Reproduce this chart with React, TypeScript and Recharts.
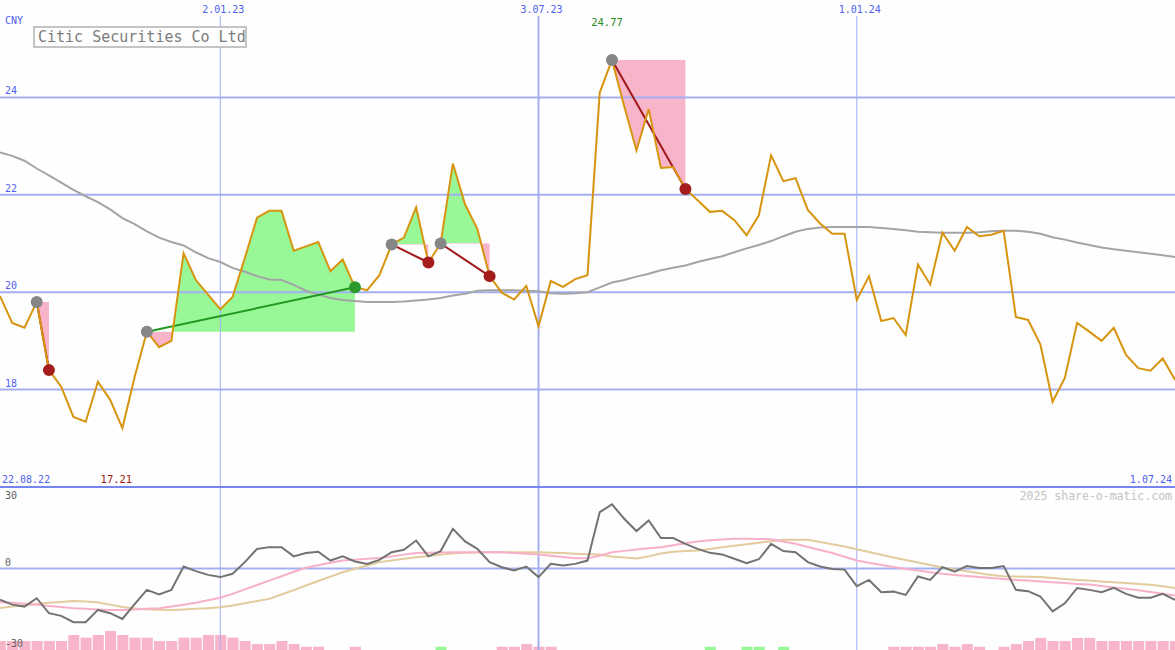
import React from "react";
import {
  Area,
  Bar,
  Cell,
  ComposedChart,
  Line,
  ReferenceDot,
  ReferenceLine,
  XAxis,
  YAxis
} from "recharts";

// weekly closes, 29.08.22 .. 1.07.24
const price = [
  19.92, 19.37, 19.27, 19.8, 18.4, 18.06, 17.44, 17.34, 18.16, 17.79,
  17.21, 18.26, 19.19, 18.87, 19.0, 20.8, 20.25, 19.95, 19.65, 19.9,
  20.7, 21.53, 21.67, 21.67, 20.85, 20.94, 21.03, 20.43, 20.67, 20.1,
  20.04, 20.35, 20.98, 21.12, 21.74, 20.61, 21.0, 22.64, 21.8, 21.3,
  20.33, 19.99, 19.85, 20.13, 19.3, 20.23, 20.11, 20.27, 20.35, 24.1,
  24.77, 23.82, 22.91, 23.76, 22.55, 22.57, 22.12, 21.89, 21.65, 21.67,
  21.48, 21.17, 21.58, 22.81, 22.28, 22.34, 21.69, 21.41, 21.2, 21.2,
  19.84, 20.33, 19.41, 19.47, 19.12, 20.57, 20.16, 21.22, 20.85, 21.34,
  21.15, 21.18, 21.26, 19.49, 19.43, 18.93, 17.75, 18.24, 19.37, 19.19,
  19.0, 19.27, 18.71, 18.44, 18.39, 18.64, 18.2
];

const movingAvg = [
  22.87, 22.8, 22.7, 22.54, 22.4, 22.25, 22.1, 21.97, 21.85, 21.7,
  21.52, 21.4, 21.25, 21.12, 21.03, 20.96, 20.82, 20.7, 20.62, 20.5,
  20.42, 20.33, 20.26, 20.25, 20.15, 20.03, 19.95, 19.88, 19.84, 19.82,
  19.8, 19.8, 19.8, 19.81, 19.83, 19.85, 19.88, 19.93, 19.97, 20.03,
  20.04, 20.04, 20.04, 20.03, 20.02, 19.98, 19.97, 19.98, 20.0, 20.1,
  20.2, 20.25, 20.32, 20.38, 20.45, 20.5, 20.55, 20.62, 20.68, 20.74,
  20.82, 20.9, 20.97, 21.05, 21.15, 21.24, 21.3, 21.33, 21.34, 21.34,
  21.34, 21.34, 21.32, 21.3, 21.27, 21.24, 21.23, 21.22, 21.22, 21.22,
  21.23, 21.25, 21.26, 21.26, 21.24, 21.2, 21.13, 21.08, 21.02, 20.97,
  20.92, 20.88, 20.85, 20.82, 20.79, 20.76, 20.72
];

const oscillator = [
  -14.2, -16.4, -17.3, -13.5, -20.3, -21.5, -24.4, -24.4, -18.8, -20.3,
  -22.9, -16.2, -9.7, -11.8, -9.7, 0.9, -1.2, -2.9, -3.9, -2.4,
  2.9, 8.9, 9.7, 9.7, 5.5, 7.0, 7.6, 3.6, 5.5, 3.2,
  2.1, 3.9, 7.4, 8.5, 12.7, 5.5, 7.9, 18.0, 12.3, 8.9,
  2.9, 0.6, -0.9, 0.9, -3.9, 2.1, 1.4, 2.1, 3.6, 25.6,
  29.1, 22.6, 17.0, 21.8, 13.8, 13.8, 11.2, 8.9, 7.1, 6.4,
  4.4, 2.4, 4.2, 11.2, 7.9, 7.4, 2.9, 0.9, -0.2, -0.5,
  -8.0, -5.2, -10.8, -10.5, -12.0, -3.6, -5.2, 0.6, -1.4, 1.1,
  0.2, 0.2, 1.1, -9.7, -10.3, -12.7, -19.5, -15.8, -8.9, -9.7,
  -10.8, -8.8, -11.5, -13.3, -13.3, -11.5, -14.2
];

const signalPink = [
  -15.3, -15.6, -16.0, -16.5, -17.0, -17.5, -18.0, -18.3, -18.6, -18.8,
  -18.8, -18.6, -18.3, -18.0, -17.3, -16.5, -15.5, -14.4, -13.3, -11.5,
  -9.5, -7.5, -5.5, -3.5, -1.5, 0.3, 1.5, 2.6, 3.6, 4.0,
  4.4, 4.8, 5.5, 6.3, 7.0, 7.2, 7.3, 7.4, 7.4, 7.4,
  7.4, 7.4, 7.0, 6.7, 6.4, 5.8, 5.2, 4.6, 4.6, 5.8,
  7.4, 8.0, 8.6, 9.2, 9.7, 10.6, 11.5, 12.3, 12.8, 13.2,
  13.5, 13.5, 13.4, 13.3, 12.3, 11.2, 9.8, 8.4, 7.0, 5.3,
  3.6, 2.6, 1.6, 0.7, -0.2, -0.9, -1.7, -2.4, -2.9, -3.4,
  -3.9, -4.3, -4.8, -5.2, -5.5, -5.9, -6.2, -6.6, -7.0, -7.3,
  -7.9, -8.6, -9.2, -9.9, -10.7, -11.5, -12.3
];

const signalTan = [
  -17.9, -17.3, -16.7, -16.1, -15.6, -15.2, -14.8, -15.0, -15.4, -16.4,
  -17.5, -18.2, -18.5, -18.7, -18.8, -18.6, -18.3, -18.0, -17.6, -16.8,
  -15.8, -14.8, -13.8, -11.8, -9.8, -7.7, -5.7, -3.7, -1.7, -0.1,
  1.4, 2.9, 3.6, 4.4, 5.1, 5.7, 6.3, 6.8, 7.1, 7.3,
  7.4, 7.4, 7.4, 7.4, 7.4, 7.2, 7.0, 6.7, 6.5, 6.4,
  5.5, 5.0, 4.5, 5.5, 6.8, 7.6, 7.9, 8.2, 8.9, 9.6,
  10.3, 11.0, 11.7, 12.4, 13.0, 13.0, 13.0, 12.0, 11.0, 10.0,
  8.7, 7.5, 6.2, 5.0, 3.9, 2.7, 1.6, 0.5, -0.5, -1.3,
  -2.2, -3.0, -3.5, -3.6, -3.8, -3.9, -4.3, -4.8, -5.2, -5.5,
  -5.9, -6.2, -6.6, -7.0, -7.4, -8.1, -8.8
];

// histogram: negative = pink, positive = green
const histogram = [
  -4.1, -4.1, -4.1, -4.1, -4.1, -4.1, -6.8, -5.6, -6.8, -8.6,
  -6.8, -5.6, -5.6, -4.1, -4.1, -5.6, -5.6, -6.8, -6.8, -5.6,
  -4.1, -2.7, -2.7, -4.1, -2.7, -1.5, -1.5, 0, 0, -1.5,
  0, 0, 0, 0, 0, 0, 1.5, 0, 0, 0,
  0, -1.5, -1.5, -2.7, -1.5, -1.5, 0, 0, 0, 0,
  0, 0, 0, 0, 0, 0, 0, 0, 1.5, 0,
  0, 1.5, 1.5, 0, 1.5, 0, 0, 0, 0, 0,
  0, 0, 0, -1.5, -1.5, -1.5, -1.5, -2.7, -1.5, -2.7,
  -1.5, 0, -1.5, -2.7, -4.1, -5.5, -4.1, -4.1, -5.5, -5.5,
  -4.1, -4.1, -4.1, -4.1, -4.1, -4.1, -4.1
];

const priceTicks = [24, 22, 20, 18];
const dateMarks = [
  { i: 18, label: "2.01.23", width: 1 },
  { i: 44, label: "3.07.23", width: 2 },
  { i: 70, label: "1.01.24", width: 1 }
];
const signals = [
  { from: 3, to: 4, win: false },
  { from: 12, to: 29, win: true },
  { from: 32, to: 35, win: false },
  { from: 36, to: 40, win: false },
  { from: 50, to: 56, win: false }
];

const mono = '"DejaVu Sans Mono", monospace';
const blue = "#4f5ff0";
const grid = "#a3aff2";
const green = "#98f898";
const pink = "#f8b4c8";

const maxIdx = price.indexOf(Math.max(...price));
const minIdx = price.indexOf(Math.min(...price));

const rows = price.map((p, i) => {
  const row: any = { i, price: p, ma: movingAvg[i] };
  signals.forEach((s, k) => {
    if (i >= s.from && i <= s.to) row[`f${k}`] = [price[s.from], p];
    if (i === s.from || i === s.to) row[`t${k}`] = p;
  });
  return row;
});

const lowRows = oscillator.map((v, i) => ({
  i,
  osc: v,
  pink: signalPink[i],
  tan: signalTan[i],
  bar: Math.abs(histogram[i])
}));

function dotLabel(text: string, color: string, dx: number, dy: number, anchor: string, size = 10) {
  return (props: any) => {
    const vb = props.viewBox || {};
    return (
      <text x={vb.x + dx} y={vb.y + dy} textAnchor={anchor} fill={color} fontSize={size} fontFamily={mono}>
        {text}
      </text>
    );
  };
}

function signalDot(s: { from: number; to: number; win: boolean }, k: number) {
  return (props: any) => {
    const { cx, cy, payload, index } = props;
    if (cx == null || cy == null || payload == null || payload[`t${k}`] == null) {
      return <g key={`n${k}-${index}`} />;
    }
    const fill = payload.i === s.from ? "#868686" : s.win ? "#2a9a2a" : "#a51c1c";
    return <circle key={`d${k}-${index}`} cx={cx} cy={cy} r={6} fill={fill} />;
  };
}

export default function App() {
  return (
    <div style={{ position: "absolute", left: 0, top: 0, width: 1175, height: 650, background: "#fdfefd", overflow: "hidden" }}>
      <div style={{ position: "absolute", left: 0, top: 487 }}>
        <ComposedChart width={1175} height={163} data={lowRows} margin={{ top: 0, right: 0, bottom: 0, left: 0 }}>
          <XAxis type="number" dataKey="i" domain={[0, 96]} hide />
          <YAxis yAxisId="o" type="number" domain={[-37, 37]} hide allowDataOverflow />
          <YAxis yAxisId="h" type="number" domain={[0, 74]} hide allowDataOverflow />
          <ReferenceLine yAxisId="o" y={0} stroke={grid} strokeWidth={2} label={dotLabel("0", "#606060", 5, -3, "start")} />
          {dateMarks.map((d) => (
            <ReferenceLine key={d.label} yAxisId="o" x={d.i} stroke={grid} strokeWidth={d.width} />
          ))}
          <Bar yAxisId="h" dataKey="bar" barSize={13} isAnimationActive={false}>
            {histogram.map((v, i) => (
              <Cell key={i} fill={v > 0 ? green : pink} />
            ))}
          </Bar>
          <Line yAxisId="o" type="linear" dataKey="tan" stroke="#e2cb9c" strokeWidth={2} dot={false} activeDot={false} isAnimationActive={false} />
          <Line yAxisId="o" type="linear" dataKey="pink" stroke="#f8b0c8" strokeWidth={2} dot={false} activeDot={false} isAnimationActive={false} />
          <Line yAxisId="o" type="linear" dataKey="osc" stroke="#737373" strokeWidth={2} dot={false} activeDot={false} isAnimationActive={false} />
          <ReferenceDot yAxisId="o" x={0} y={30} r={0} label={dotLabel("30", "#606060", 5, -3, "start")} />
          <ReferenceDot yAxisId="o" x={0} y={-30} r={0} label={dotLabel("-30", "#606060", 5, 12, "start")} />
          <ReferenceDot yAxisId="o" x={96} y={37} r={0} label={dotLabel("2025 share-o-matic.com", "#c4c4c4", -3, 13, "end", 11.5)} />
        </ComposedChart>
      </div>

      <div style={{ position: "absolute", left: 0, top: 0 }}>
        <ComposedChart width={1175} height={489} data={rows} margin={{ top: 0, right: 0, bottom: 2, left: 0 }}>
          <defs>
            {signals.map((s, k) => {
              const vals = price.slice(s.from, s.to + 1);
              const hi = Math.max(...vals);
              const lo = Math.min(...vals);
              const off = (hi - price[s.from]) / (hi - lo);
              return (
                <linearGradient key={k} id={`sg${k}`} x1="0" y1="0" x2="0" y2="1">
                  <stop offset={0} stopColor={green} />
                  <stop offset={off} stopColor={green} />
                  <stop offset={off} stopColor={pink} />
                  <stop offset={1} stopColor={pink} />
                </linearGradient>
              );
            })}
          </defs>
          <XAxis type="number" dataKey="i" domain={[0, 96]} hide />
          <YAxis type="number" domain={[16, 26]} hide allowDataOverflow />
          {priceTicks.map((v) => (
            <ReferenceLine key={v} y={v} stroke={grid} strokeWidth={2} label={dotLabel(String(v), blue, 5, -3, "start")} />
          ))}
          {dateMarks.map((d) => (
            <ReferenceLine
              key={d.label}
              segment={[{ x: d.i, y: 25.67 }, { x: d.i, y: 16 }]}
              stroke={grid}
              strokeWidth={d.width}
            />
          ))}
          <ReferenceLine y={16} stroke="#7686f0" strokeWidth={2} />
          {signals.map((s, k) => (
            <Area
              key={`a${k}`}
              type="linear"
              dataKey={`f${k}`}
              stroke="none"
              fill={`url(#sg${k})`}
              fillOpacity={1}
              dot={false}
              activeDot={false}
              isAnimationActive={false}
            />
          ))}
          <Line type="linear" dataKey="ma" stroke="#a4a4a4" strokeWidth={2} dot={false} activeDot={false} isAnimationActive={false} />
          {signals.map((s, k) => (
            <Line
              key={`l${k}`}
              type="linear"
              dataKey={`t${k}`}
              connectNulls
              stroke={s.win ? "#229a22" : "#a01818"}
              strokeWidth={2}
              dot={false}
              activeDot={false}
              isAnimationActive={false}
            />
          ))}
          <Line type="linear" dataKey="price" stroke="#d7950f" strokeWidth={2} dot={false} activeDot={false} isAnimationActive={false} />
          {signals.map((s, k) => (
            <Line
              key={`m${k}`}
              type="linear"
              dataKey={`t${k}`}
              connectNulls
              stroke="none"
              dot={signalDot(s, k)}
              activeDot={false}
              isAnimationActive={false}
            />
          ))}
          <ReferenceDot x={0} y={26} r={0} label={dotLabel("CNY", blue, 5, 23.5, "start")} />
          {dateMarks.map((d) => (
            <ReferenceDot key={`t${d.label}`} x={d.i} y={26} r={0} label={dotLabel(d.label, blue, 3, 12.5, "middle")} />
          ))}
          <ReferenceDot x={maxIdx} y={26} r={0} label={dotLabel(price[maxIdx].toFixed(2), "#1f8c1f", -5, 25.5, "middle", 10.5)} />
          <ReferenceDot x={minIdx} y={16} r={0} label={dotLabel(price[minIdx].toFixed(2), "#a01818", -6, -4.5, "middle", 10.5)} />
          <ReferenceDot x={0} y={16} r={0} label={dotLabel("22.08.22", blue, 2, -4.5, "start")} />
          <ReferenceDot x={96} y={16} r={0} label={dotLabel("1.07.24", blue, -3, -4.5, "end")} />
        </ComposedChart>
      </div>

      <div
        style={{
          position: "absolute",
          left: 33,
          top: 26,
          width: 214,
          height: 22,
          boxSizing: "border-box",
          border: "2px solid #c4c4c4",
          background: "#fdfefd",
          color: "#7c7c7c",
          fontFamily: mono,
          fontSize: 15,
          lineHeight: "18px",
          paddingLeft: 3,
          whiteSpace: "nowrap"
        }}
      >
        Citic Securities Co Ltd
      </div>
    </div>
  );
}
